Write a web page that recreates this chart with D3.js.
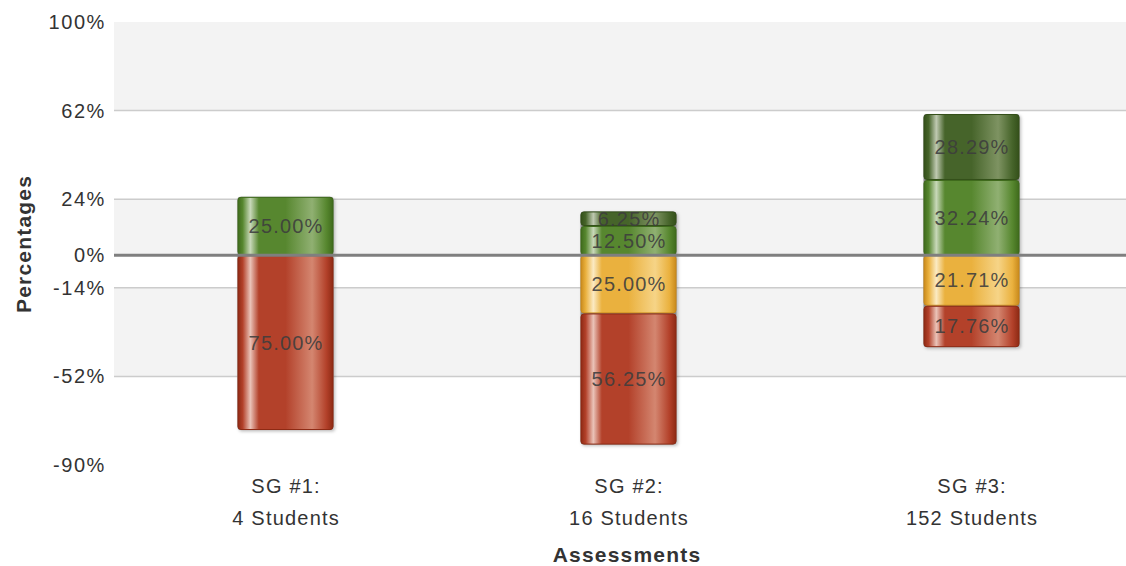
<!DOCTYPE html>
<html>
<head>
<meta charset="utf-8">
<script src="https://cdn.jsdelivr.net/npm/d3@7"></script>
<style>
  body { margin: 0; background: #fff; }
  svg text { font-family: "Liberation Sans", Arial, Helvetica, sans-serif; }
</style>
</head>
<body>
<div id="chart"></div>
<script>
// chart data
const categories = ['SG #1:|4 Students', 'SG #2:|16 Students', 'SG #3:|152 Students'];
const seriesNames = ['Exceeds', 'Meets', 'Approaching', 'Below'];
const exceeds = [0, 6.25, 28.29];
const meets = [25.00, 12.50, 32.24];
const approaching = [0, 25.00, 21.71];
const below = [75.00, 56.25, 17.76];
const tickValues = [100, 62, 24, 0, -14, -52, -90];

const width = 1126, height = 566;
const margin = {top: 22, left: 114, bottom: 101};

const svg = d3.select('#chart').append('svg')
    .attr('width', width)
    .attr('height', height);

const x = d3.scaleBand()
    .domain(categories)
    .range([margin.left, 1143])
    .paddingInner(0.72)
    .paddingOuter(0.36);

const y = d3.scaleLinear()
    .domain([-90, 100])
    .range([height - margin.bottom, margin.top]);

// colours: [edge, mid, light]
const palette = {
    Exceeds: ['#34501a', '#46642a', '#7e9362'],
    Meets: ['#3f6b1c', '#57872f', '#90b072'],
    Approaching: ['#c98a1c', '#eab13e', '#f6d487'],
    Below: ['#8e2a14', '#b3412a', '#d48670']
};

const defs = svg.append('defs');
seriesNames.forEach(function(name){
    let c = palette[name];
    let g = defs.append('linearGradient')
        .attr('id', 'grad-' + name)
        .attr('x1', '0%').attr('x2', '100%')
        .attr('y1', '0%').attr('y2', '0%');
    const stops = [
        [0, c[0]], [0.05, c[1]], [0.13, d3.interpolateRgb(c[2], '#fff')(0.5)],
        [0.22, c[1]], [0.5, c[1]], [0.78, c[2]], [0.93, c[1]], [1, c[0]]
    ];
    stops.forEach(function(s){
        g.append('stop').attr('offset', s[0]).attr('stop-color', s[1]);
    });
});

let shadow = defs.append('filter').attr('id', 'shadow')
    .attr('x', '-10%').attr('y', '-10%').attr('width', '130%').attr('height', '130%');
shadow.append('feDropShadow')
    .attr('dx', 1.5).attr('dy', 1.5).attr('stdDeviation', 1.5)
    .attr('flood-color', '#000').attr('flood-opacity', 0.25);

// alternating background bands
const bands = d3.pairs(tickValues);
svg.append('g').selectAll('rect')
    .data(bands)
    .enter().append('rect')
    .attr('x', margin.left)
    .attr('width', width - margin.left)
    .attr('y', function(d){ return y(d[0]); })
    .attr('height', function(d){ return y(d[1]) - y(d[0]); })
    .attr('fill', function(d, i){ return i % 2 === 0 ? '#f3f3f3' : '#fff'; });

// gridlines
svg.append('g').selectAll('line')
    .data(tickValues.filter(function(t){ return t !== 100 && t !== -90 && t !== 0; }))
    .enter().append('line')
    .attr('x1', margin.left).attr('x2', width)
    .attr('y1', function(d){ return y(d); })
    .attr('y2', function(d){ return y(d); })
    .attr('stroke', '#cccccc')
    .attr('stroke-width', 1.5);

// y axis labels
const yAxis = d3.axisLeft(y)
    .tickValues(tickValues)
    .tickFormat(function(d){ return d + '%'; })
    .tickSize(0)
    .tickPadding(8);
const yAxisG = svg.append('g')
    .attr('transform', `translate(${margin.left},0)`)
    .call(yAxis);
yAxisG.select('.domain').remove();
yAxisG.selectAll('text')
    .attr('font-size', 20)
    .attr('letter-spacing', 1.6)
    .attr('fill', '#333')
    .attr('font-family', '"Liberation Sans", Arial, sans-serif');

// stack the values
const rows = categories.map(function(c, i){
    return {cat: c, Exceeds: exceeds[i], Meets: meets[i], Approaching: approaching[i], Below: below[i]};
});
const segments = [];
rows.forEach(function(r){
    let pos = 0;
    ['Meets', 'Exceeds'].forEach(function(k){
        if(r[k] > 0){
            segments.push({cat: r.cat, key: k, value: r[k], y0: pos, y1: pos + r[k]});
            pos += r[k];
        }
    });
    let neg = 0;
    ['Approaching', 'Below'].forEach(function(k){
        if(r[k] > 0){
            segments.push({cat: r.cat, key: k, value: r[k], y0: neg - r[k], y1: neg});
            neg -= r[k];
        }
    });
});

// bar shadows (one per bar)
svg.append('g').selectAll('rect')
    .data(rows)
    .enter().append('rect')
    .attr('x', function(d){ return x(d.cat); })
    .attr('width', x.bandwidth())
    .attr('y', function(d){ return y(d.Meets + d.Exceeds); })
    .attr('height', function(d){ return y(-(d.Approaching + d.Below)) - y(d.Meets + d.Exceeds); })
    .attr('rx', 3)
    .attr('fill', '#888')
    .attr('filter', 'url(#shadow)');

const segG = svg.append('g');
segG.selectAll('rect')
    .data(segments)
    .enter().append('rect')
    .attr('x', function(d){ return x(d.cat) + 0.5; })
    .attr('width', x.bandwidth() - 1)
    .attr('y', function(d){ return y(d.y1) + 0.5; })
    .attr('height', function(d){ return y(d.y0) - y(d.y1) - 1; })
    .attr('rx', 3)
    .attr('fill', function(d){ return 'url(#grad-' + d.key + ')'; })
    .attr('stroke', function(d){ return palette[d.key][0]; })
    .attr('stroke-width', 1);

// zero line
svg.append('line')
    .attr('x1', margin.left).attr('x2', width)
    .attr('y1', y(0)).attr('y2', y(0))
    .attr('stroke', '#7f7f7f')
    .attr('stroke-width', 3);

// value labels
svg.append('g').selectAll('text')
    .data(segments)
    .enter().append('text')
    .attr('x', function(d){ return x(d.cat) + x.bandwidth() / 2 + 0.6; })
    .attr('y', function(d){ return (y(d.y0) + y(d.y1)) / 2 + 7; })
    .attr('text-anchor', 'middle')
    .attr('font-size', 20)
    .attr('letter-spacing', 1.2)
    .attr('fill', '#3d3d3d')
    .attr('fill-opacity', 0.9)
    .text(function(d){ return d.value.toFixed(2) + '%'; });

// category labels
const catG = svg.append('g').selectAll('text')
    .data(categories)
    .enter().append('text')
    .attr('x', function(d){ return x(d) + x.bandwidth() / 2; })
    .attr('y', 493)
    .attr('text-anchor', 'middle')
    .attr('font-size', 20)
    .attr('letter-spacing', 1.2)
    .attr('fill', '#333');
catG.append('tspan')
    .attr('x', function(d){ return x(d) + x.bandwidth() / 2 + 0.6; })
    .text(function(d){ return d.split('|')[0]; });
catG.append('tspan')
    .attr('x', function(d){ return x(d) + x.bandwidth() / 2 + 0.6; })
    .attr('dy', 32)
    .text(function(d){ return d.split('|')[1]; });

// axis titles
svg.append('text')
    .attr('x', 627)
    .attr('y', 562)
    .attr('text-anchor', 'middle')
    .attr('font-size', 21)
    .attr('font-weight', 'bold')
    .attr('letter-spacing', 1.2)
    .attr('fill', '#333')
    .text('Assessments');

svg.append('text')
    .attr('transform', 'translate(31,244) rotate(-90)')
    .attr('text-anchor', 'middle')
    .attr('font-size', 21)
    .attr('font-weight', 'bold')
    .attr('letter-spacing', 1.2)
    .attr('fill', '#333')
    .text('Percentages');
</script>
</body>
</html>
